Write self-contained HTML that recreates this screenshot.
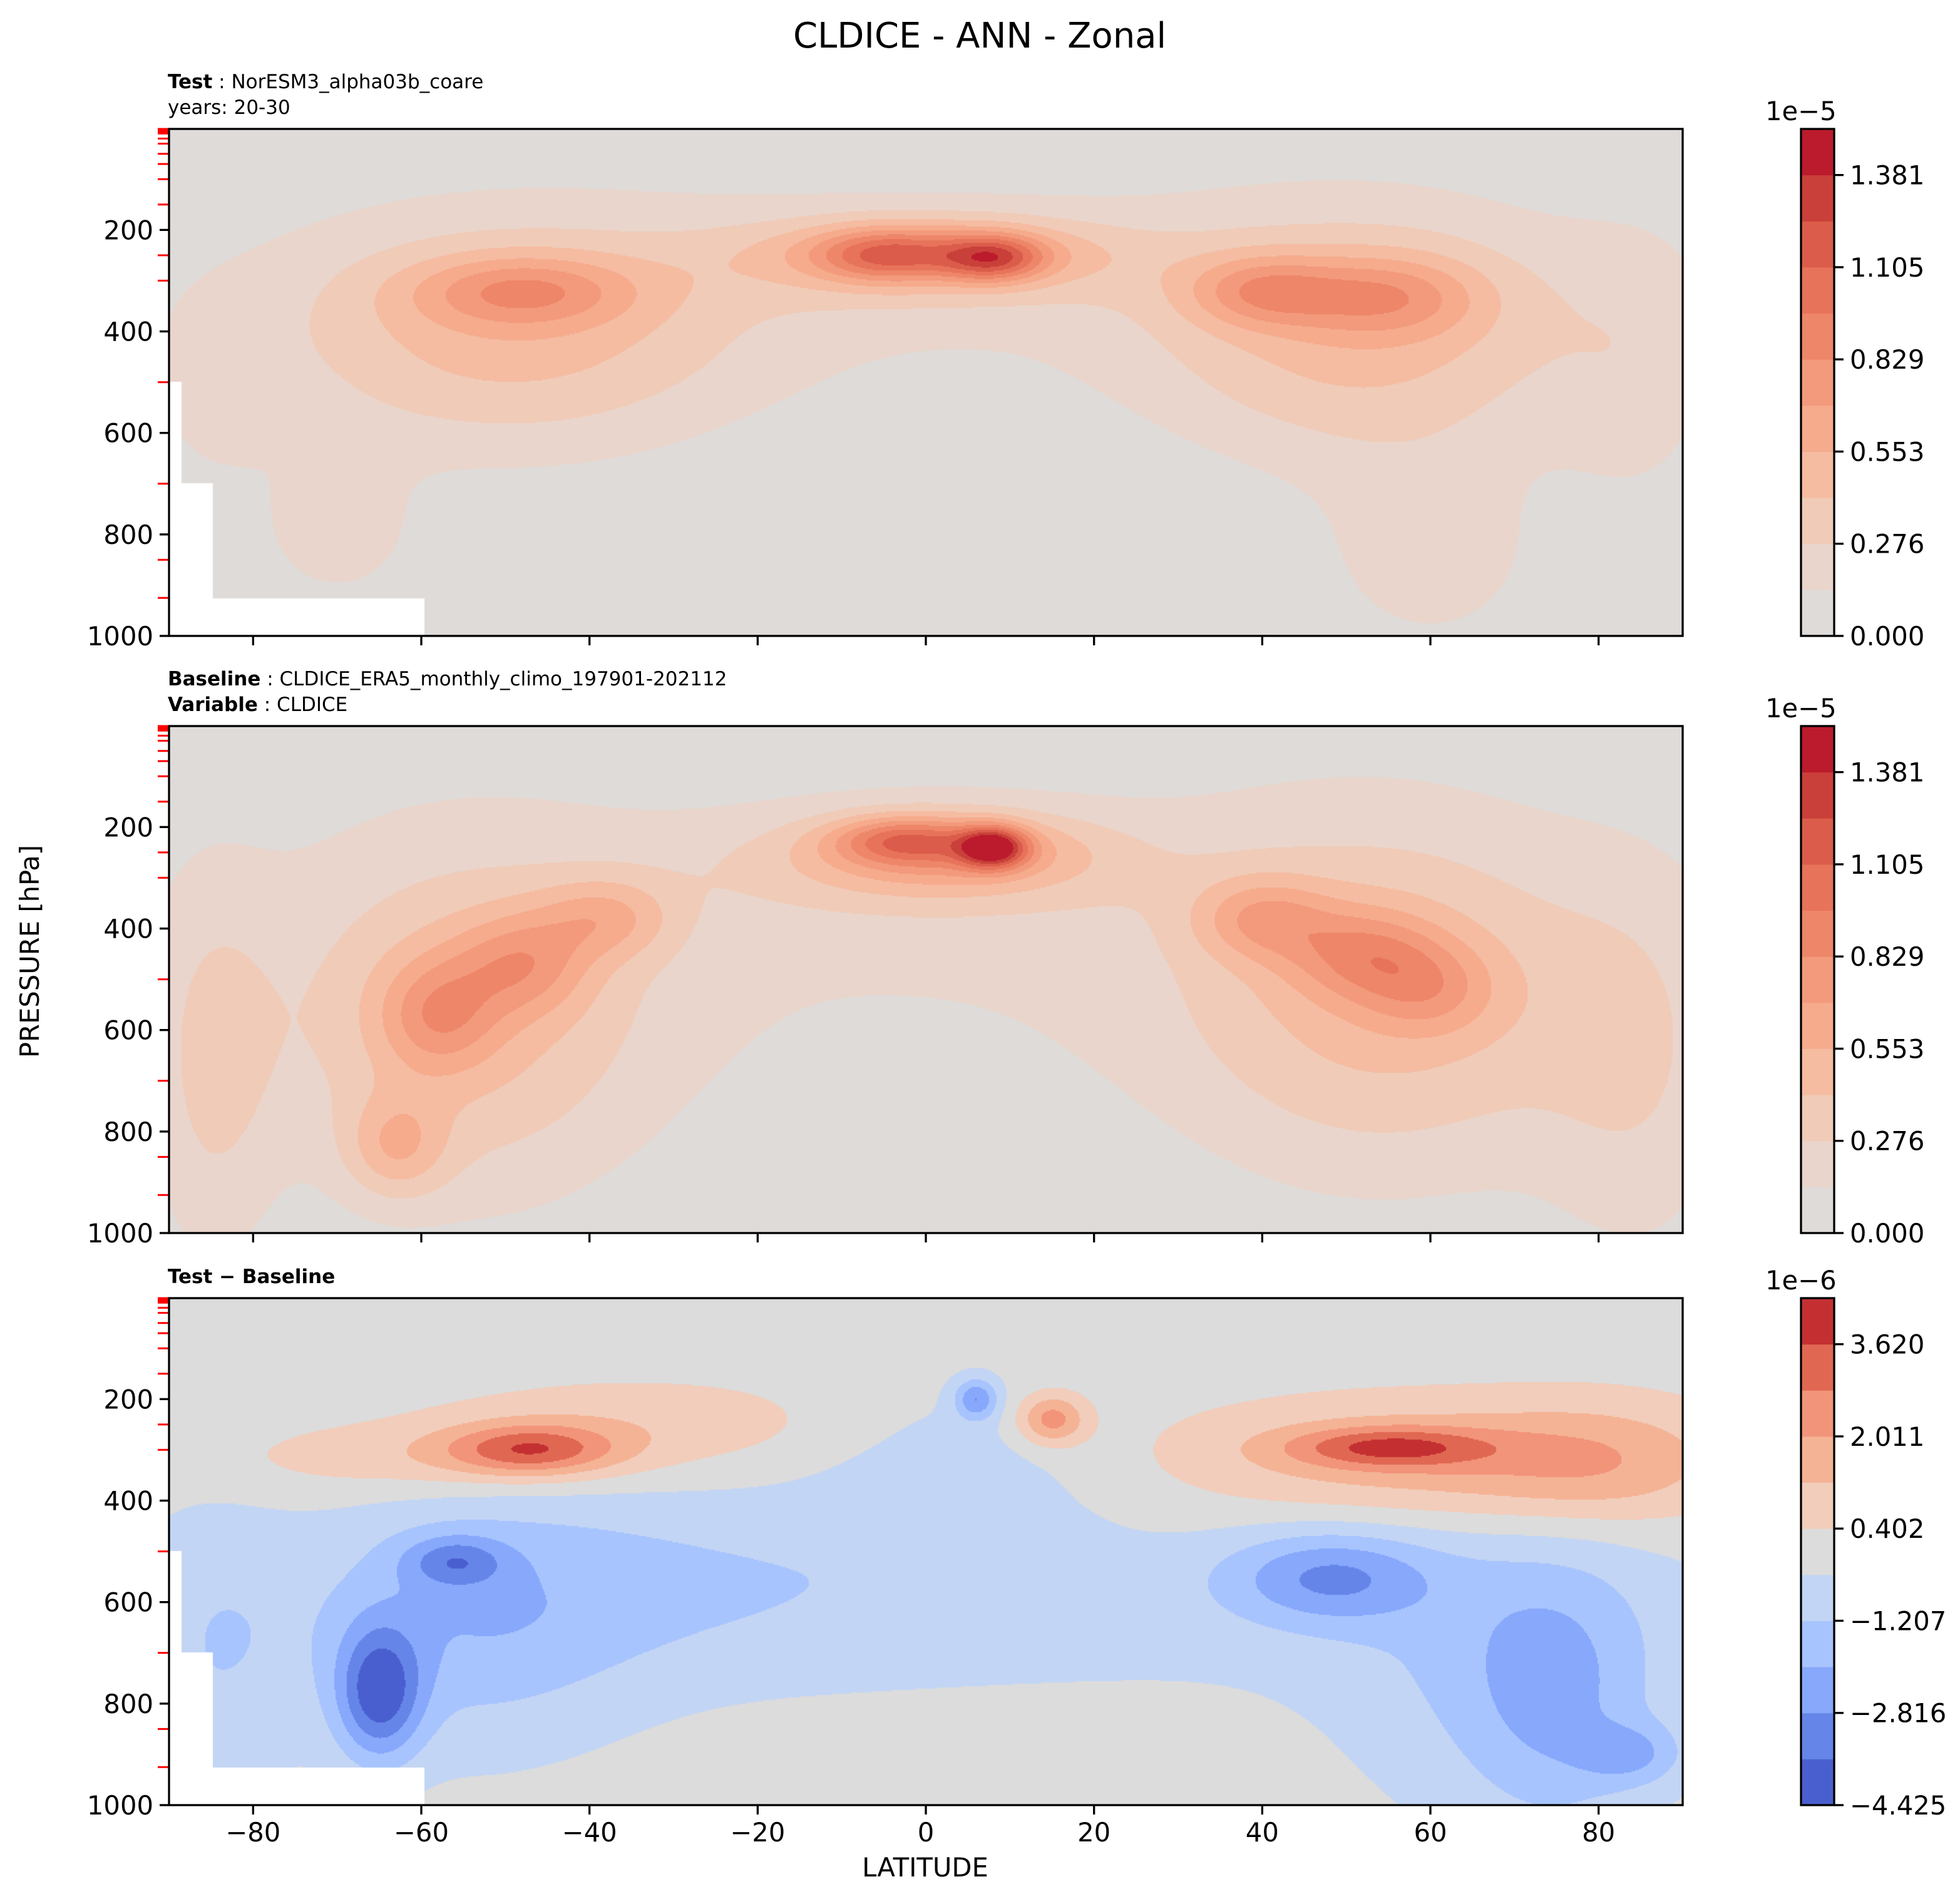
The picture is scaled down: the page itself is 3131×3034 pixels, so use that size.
<!DOCTYPE html>
<html><head><meta charset="utf-8"><style>
html,body{margin:0;padding:0;background:#fff;}
#root{position:relative;width:3131px;height:3034px;overflow:hidden;}
canvas{position:absolute;}
svg{position:absolute;left:0;top:0;}
text{font-family:"DejaVu Sans","Liberation Sans",sans-serif;}
</style></head><body>
<div id="root">
<canvas id="c1"></canvas>
<canvas id="c2"></canvas>
<canvas id="c3"></canvas>
<svg id="ov" width="3131" height="3034"></svg>
</div>
<script>
// ---- data (blob approximations of fields: lat, pressure, amplitude, lat-width, p-width) ----
const testLat   = [-48,-5,8,1,40,55,-50,52,0,-70,60,0,-85,85];
const testP     = [320,250,255,240,320,330,420,420,260,800,850,300,550,500];
const testAmp   = [0.45,0.5,0.7,0.3,0.45,0.4,0.4,0.4,0.3,0.2,0.2,0.15,0.12,0.15];
const testWl    = [13,8,6,18,9,11,28,25,25,10,14,90,8,10];
const testWp    = [70,50,45,60,70,80,230,250,90,150,200,250,200,300];

const baseLat   = [8,-3,3,-38,-48,-58,-63,40,52,60,-55,55,0,0,85,-85];
const baseP     = [240,225,240,380,470,570,830,380,450,520,600,550,280,400,700,700];
const baseAmp   = [1.0,0.5,0.4,0.35,0.4,0.4,0.35,0.4,0.4,0.3,0.38,0.4,0.3,0.15,0.2,0.25];
const baseWl    = [4,8,15,8,8,7,6,8,9,8,22,25,25,90,12,8];
const baseWp    = [40,45,70,80,100,110,100,80,90,90,350,350,100,400,400,400];

const diffLat   = [-47,-35,-60,55,60,80,15,-65,-56,-55,-30,48,75,84,6,3,20,-85,70];
const diffP     = [300,250,320,295,320,330,240,780,520,650,550,550,800,900,200,350,600,700,750];
const diffAmp   = [2.8,1.0,1.0,2.5,1.8,1.2,2.5,-3.5,-2.0,-1.5,-0.8,-2.3,-1.2,-1.5,-2.5,-0.8,-0.7,-1.0,-1.2];
const diffWl    = [10,25,25,12,30,15,4,5,6,20,30,12,10,6,2.5,15,70,10,20];
const diffWp    = [50,90,70,40,120,120,50,130,50,250,200,90,250,60,40,180,200,300,300];

const xTicks = [-80,-60,-40,-20,0,20,40,60,80];
const yTicks = [200,400,600,800,1000];
const minorP = [1,2,3,5,7,10,20,30,50,70,100,150,250,300,500,700,850,925];
const fieldTicks = ["0.000","0.276","0.553","0.829","1.105","1.381"];
const diffTicks = ["\u22124.425","\u22122.816","\u22121.207","0.402","2.011","3.620"];
const fieldLevels = {min:0, step:0.1381};
const diffLevels = {min:-4.425, step:0.8045};
const redCols = ["#dfdbd9","#e9d5cb","#f0cbb8","#f5bca2","#f6ab8d","#f39a7c","#ee8669","#e7735b","#db5c4a","#c9403a","#bb1b2c"];
const divCols = ["#4a5fcf","#6586e8","#87a8fb","#a7c4fe","#c3d5f4","#dcdcdc","#f2cdbb","#f5b396","#f2947a","#e06853","#c43032"];

// ---- layout ----
const L=270, R=2688, W=R-L, H=810;
const tops=[206,1160,2074];
function xs(lat){return L+(lat+90)/180*W;}
function ys(p,top){return top+(p-1)/999*H;}
function hex(c){return [parseInt(c.substr(1,2),16),parseInt(c.substr(3,2),16),parseInt(c.substr(5,2),16)];}

function drawField(id,top,la,pp,am,wl,wp,lev,cols,mask){
  const cv=document.getElementById(id);
  cv.width=W; cv.height=H; cv.style.left=L+'px'; cv.style.top=top+'px';
  const ctx=cv.getContext('2d'); const img=ctx.createImageData(W,H); const d=img.data;
  const rgb=cols.map(hex); const n=la.length;
  const step=2;
  for(let j=0;j<H;j+=step){
    const p=1+(j+step/2)/H*999;
    const ey=[]; for(let k=0;k<n;k++){const t=(p-pp[k])/wp[k]; ey.push(am[k]*Math.exp(-t*t));}
    for(let i=0;i<W;i+=step){
      const lat=-90+(i+step/2)/W*180;
      let v=0; for(let k=0;k<n;k++){const t=(lat-la[k])/wl[k]; v+=ey[k]*Math.exp(-t*t);}
      let b=Math.floor((v-lev.min)/lev.step); if(b<0)b=0; if(b>10)b=10;
      let c=rgb[b];
      if(mask && ((p>500&&p<=700&&lat<-88.5)||(p>700&&p<=925&&lat<-84.8)||(p>925&&lat<-59.6))) c=[255,255,255];
      for(let dy=0;dy<step&&j+dy<H;dy++)for(let dx=0;dx<step&&i+dx<W;dx++){
        const o=((j+dy)*W+i+dx)*4; d[o]=c[0];d[o+1]=c[1];d[o+2]=c[2];d[o+3]=255;}
    }
  }
  ctx.putImageData(img,0,0);
}
drawField('c1',tops[0],testLat,testP,testAmp,testWl,testWp,fieldLevels,redCols,true);
drawField('c2',tops[1],baseLat,baseP,baseAmp,baseWl,baseWp,fieldLevels,redCols,false);
drawField('c3',tops[2],diffLat,diffP,diffAmp,diffWl,diffWp,diffLevels,divCols,true);

// ---- overlay ----
const NS='http://www.w3.org/2000/svg', ov=document.getElementById('ov');
function el(tag,attrs,txt){const e=document.createElementNS(NS,tag);for(const k in attrs)e.setAttribute(k,attrs[k]);if(txt!==undefined)e.textContent=txt;ov.appendChild(e);return e;}

let t=el('text',{x:1565,y:76,'font-size':56,'text-anchor':'middle'},'CLDICE - ANN - Zonal');



function subtitle(y,bold,rest,name){
  const e=el('text',{x:268,y:y,'font-size':31});
  
  
  const a=document.createElementNS(NS,'tspan');a.setAttribute('font-weight','bold');a.textContent=bold;e.appendChild(a);
  if(rest){const b=document.createElementNS(NS,'tspan');b.textContent=rest;e.appendChild(b);}
}
subtitle(141,'Test',' : NorESM3_alpha03b_coare','test-subtitle');
subtitle(182,'','years: 20-30','test-years');
subtitle(1095,'Baseline',' : CLDICE_ERA5_monthly_climo_197901-202112','baseline-subtitle');
subtitle(1136,'Variable',' : CLDICE','variable-subtitle');
subtitle(2050,'Test \u2212 Baseline','','difference-subtitle');

tops.forEach((top,pi)=>{
  const bot=top+H;
  minorP.forEach(p=>{const y=ys(p,top);
    const m=el('line',{x1:L-18,x2:L,y1:y,y2:y,stroke:'#ff0000','stroke-width':3});
    
    });
  const fr=el('rect',{x:L,y:top,width:W,height:H,fill:'none',stroke:'#000','stroke-width':3.3});
  
  
  yTicks.forEach(p=>{const y=ys(p,top);
    el('line',{x1:L-15,x2:L,y1:y,y2:y,stroke:'#000','stroke-width':3.3});
    const tl=el('text',{x:L-25,y:y+15,'font-size':41.7,'text-anchor':'end'},String(p));
    
    });
  xTicks.forEach(v=>{const x=xs(v);
    el('line',{x1:x,x2:x,y1:bot,y2:bot+15,stroke:'#000','stroke-width':3.3});
    if(pi===2){const tl=el('text',{x:x,y:bot+58,'font-size':41.7,'text-anchor':'middle'},v<0?'\u2212'+(-v):String(v));
      
      }
  });
  const cx=2877,cw=53, cols=pi===2?divCols:redCols, labs=pi===2?diffTicks:fieldTicks;
  const bh=H/11;
  cols.forEach((c,k)=>{const r=el('rect',{x:cx,y:bot-(k+1)*bh,width:cw,height:bh+0.5,fill:c});
    
    });
  const cf=el('rect',{x:cx,y:top,width:cw,height:H,fill:'none',stroke:'#000','stroke-width':3.3});
  
  
  labs.forEach((s,k)=>{const y=bot-2*k*bh;
    el('line',{x1:cx+cw,x2:cx+cw+15,y1:y,y2:y,stroke:'#000','stroke-width':3.3});
    const tl=el('text',{x:cx+cw+25,y:y+15,'font-size':41.7},s);
    
    });
  const ex=el('text',{x:2820,y:top-14,'font-size':41.7},pi===2?'1e\u22126':'1e\u22125');
  
  
});
t=el('text',{x:1478,y:2998,'font-size':41.7,'text-anchor':'middle'},'LATITUDE');


t=el('text',{x:62,y:1520,'font-size':41.7,'text-anchor':'middle',transform:'rotate(-90 62 1520)'},'PRESSURE [hPa]');


</script>
</body></html>
